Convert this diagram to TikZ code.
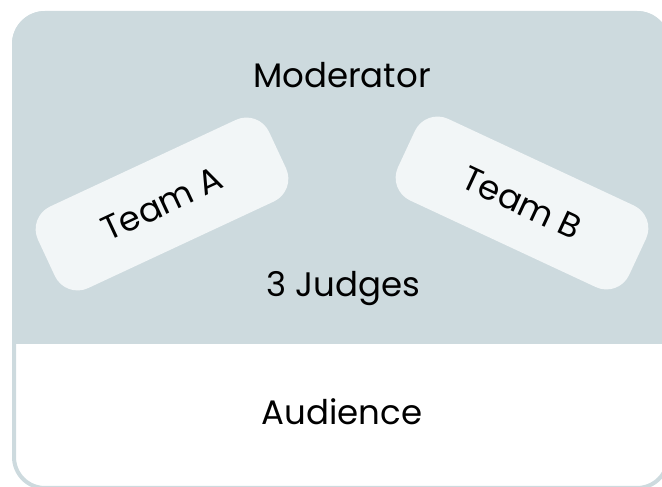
\documentclass[tikz,border=0pt]{standalone}
\usepackage{fontspec}
\setmainfont{Poppins}
\definecolor{stage}{RGB}{205,218,222}
\definecolor{teambox}{RGB}{242,246,247}
\begin{document}
\begin{tikzpicture}[x=1pt,y=1pt,
  team/.style={fill=teambox,rounded corners=25pt,minimum width=255pt,
    minimum height=90pt,font=\fontsize{34}{40}\selectfont},
  role/.style={anchor=base,font=\fontsize{34}{40}\selectfont}]
  \useasboundingbox (0,0) rectangle (662,487);
  \clip (0,0) rectangle (662,487);
  % stage area
  \begin{scope}
    \clip[rounded corners=33pt] (12,-3) rectangle (670,476);
    \fill[stage] (12,143) rectangle (670,476);
  \end{scope}
  \draw[stage,line width=4pt,rounded corners=31pt] (14,-1) rectangle (668,474);
  % labels
  \node[role] (moderator) at (342,399) {Moderator};
  \node[role] (judges) at (343,190) {3 Judges};
  \node[role] (audience) at (342,62) {Audience};
  % teams
  \node[team,rotate=25] (teamA) at (162,283) {Team A};
  \node[team,rotate=-25] (teamB) at (522,284) {Team B};
\end{tikzpicture}
\end{document}
